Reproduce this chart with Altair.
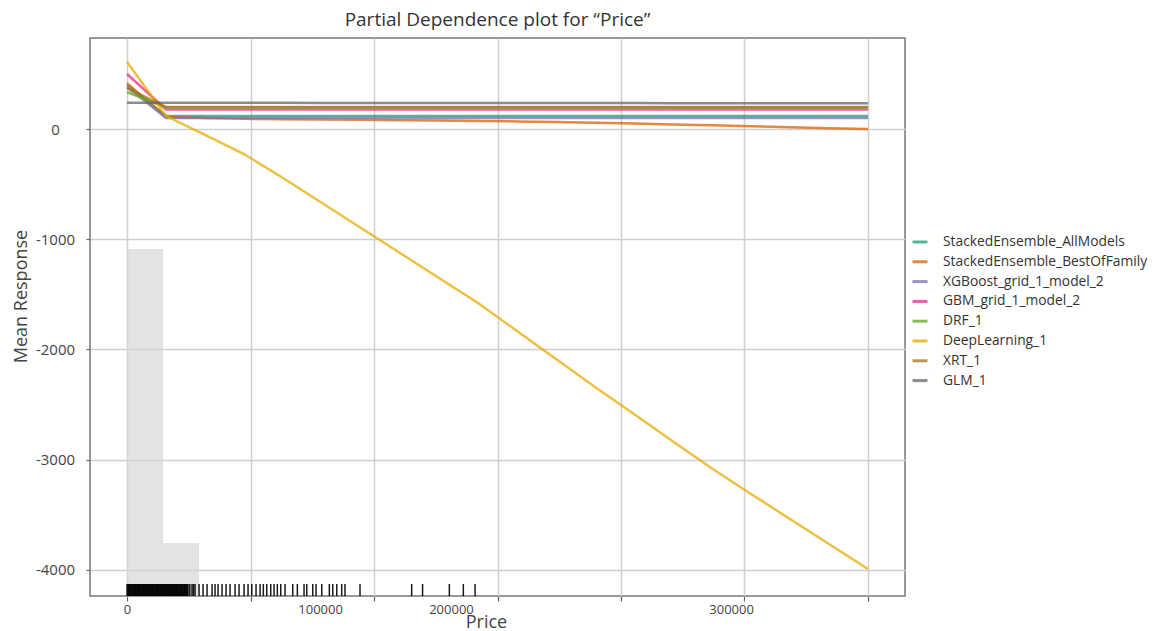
import altair as alt
import pandas as pd

FONT = "Open Sans"

models = [
    "StackedEnsemble_AllModels",
    "StackedEnsemble_BestOfFamily",
    "XGBoost_grid_1_model_2",
    "GBM_grid_1_model_2",
    "DRF_1",
    "DeepLearning_1",
    "XRT_1",
    "GLM_1",
]
colors = ["#1b9e77", "#d95f02", "#7570b3", "#e7298a", "#66a61e", "#e6ab02", "#a6761d", "#666666"]

price_grid = [0, 18947, 37895, 56842, 75789, 94737, 113684, 132632, 151579, 170526,
              189474, 208421, 227368, 246316, 265263, 284211, 303158, 322105, 341053, 360000]

se_all = [400, 118, 118, 118, 118, 118, 118, 118, 118, 118, 118, 118, 118, 118, 118, 118, 118, 118, 118, 118]
se_best = [417, 109, 100, 93, 89, 86, 83, 80, 77, 73, 69, 63, 57, 50, 42, 34, 25, 17, 8, 0]
xgb = [381, 100, 100, 100, 100, 100, 100, 100, 100, 100, 100, 100, 100, 100, 100, 100, 100, 100, 100, 100]
gbm = [499, 178, 178, 178, 178, 178, 178, 178, 178, 178, 178, 178, 178, 178, 178, 178, 178, 178, 178, 178]
drf = [336, 195, 195, 195, 195, 195, 195, 195, 195, 195, 195, 195, 195, 195, 195, 195, 195, 195, 195, 195]
deep = [608, 118, -54, -227, -445, -671, -898, -1125, -1352, -1579,
        -1833, -2087, -2341, -2586, -2836, -3081, -3312, -3539, -3766, -3993]
xrt = [370, 200, 200, 200, 200, 200, 200, 200, 200, 200, 200, 200, 200, 200, 200, 200, 200, 200, 200, 200]
glm = [239, 239, 238, 238, 238, 237, 237, 237, 236, 236, 236, 235, 235, 235, 234, 234, 234, 233, 233, 233]

series = [se_all, se_best, xgb, gbm, drf, deep, xrt, glm]

# histogram of Price (two visible bins)
hist_start = [0, 17500]
hist_end = [17500, 35000]
hist_count = [622, 95]

# rug of observed Price values
rug_values = [0, 400, 800, 1200, 1600, 2000, 2400, 2800, 3200, 3600, 4000, 4400, 4800,
              5200, 5600, 6000, 6400, 6800, 7200, 7600, 8000, 8400, 8800, 9200, 9600,
              10000, 10400, 10800, 11200, 11600, 12000, 12400, 12800, 13200, 13600, 14000,
              14400, 14800, 15200, 15600, 16000, 16400, 16800, 17200, 17600, 18000, 18400,
              18800, 19200, 19600, 20000, 20400, 20800, 21200, 21600, 22000, 22400, 22800,
              23200, 23600, 24000, 24400, 24800, 25200, 25600, 26000, 26400, 26800, 27200,
              27600, 28000, 28400, 28800, 29200, 29640, 30500, 31580, 32300, 33040, 34990,
              36930, 38870, 41300, 42760, 44220, 46160, 48110, 50050, 52480, 54420, 56850,
              58790, 60590, 62680, 64630, 66230, 67880, 69830, 71430, 73030, 74680, 76770,
              80510, 82750, 86000, 87320, 90230, 91840, 94600, 98300, 99950, 101900, 104300,
              105900, 113200, 138300, 143600, 156600, 163400, 169100]

# axis ticks / labels
x_grid_ticks = [0, 60000, 120000, 180000, 240000, 300000, 360000]
x_label_pos = [0, 93800, 157400, 293500]
x_label_text = ["0", "100000", "200000", "300000"]
y_ticks = [0, -1000, -2000, -3000, -4000]

rows = []
for m, vals in zip(models, series):
    for xv, yv in zip(price_grid, vals):
        rows.append({"model": m, "price": xv, "response": yv})
df_lines = pd.DataFrame(rows)
df_hist = pd.DataFrame({"start": hist_start, "end": hist_end, "count": hist_count})
df_rug = pd.DataFrame({"price": rug_values})

x_scale = alt.Scale(domain=[-18000, 378000], nice=False, zero=False)

label_expr = ""
for p, t in zip(x_label_pos, x_label_text):
    label_expr += f"datum.value == {p} ? '{t}' : "
label_expr += "''"
grid_list = ",".join(str(v) for v in x_grid_ticks)
grid_test = f"indexof([{grid_list}], datum.value) < 0"

x_axis = alt.Axis(
    values=sorted(set(x_grid_ticks + x_label_pos)),
    labelExpr=label_expr,
    gridOpacity={"condition": {"test": grid_test, "value": 0}, "value": 1},
    tickOpacity={"condition": {"test": grid_test, "value": 0}, "value": 1},
    grid=True, gridColor="#d0d0d0", gridWidth=1.5,
    tickSize=5, tickColor="#666666", tickWidth=1.2,
    domain=False,
    labelFont=FONT, labelFontSize=13, labelColor="#444444", labelPadding=2,
    labelOverlap=False, labelFlush=False,
    title="Price", titleFont=FONT, titleFontSize=18, titleFontWeight="normal",
    titleColor="#444444", titleX=396, titleY=26, titleAlign="center", titleBaseline="middle",
)

y_axis = alt.Axis(
    values=y_ticks,
    labelExpr="'' + datum.value",
    grid=True, gridColor="#d0d0d0", gridWidth=1.5,
    tickSize=4, tickColor="#666666", tickWidth=1.2,
    domain=False,
    labelFont=FONT, labelFontSize=15, labelColor="#444444",
    labelAlign="center", labelPadding=31, labelBaseline="middle",
    title="Mean Response", titleFont=FONT, titleFontSize=18, titleFontWeight="normal",
    titleColor="#444444", titleX=-69, titleY=258, titleAngle=270,
    titleAlign="center", titleBaseline="middle",
)

hist = alt.Chart(df_hist).mark_rect(color="#d4d4d4", opacity=0.65).encode(
    x=alt.X("start:Q", scale=x_scale, axis=x_axis),
    x2="end:Q",
    y=alt.Y("count:Q", scale=alt.Scale(domain=[0, 1000], nice=False), axis=None),
    y2=alt.datum(0),
)

rug = alt.Chart(df_rug).mark_rule(color="#000000", strokeWidth=1.5, opacity=0.9).encode(
    x=alt.X("price:Q", scale=x_scale),
    y=alt.value(546),
    y2=alt.value(558),
)

lines = alt.Chart(df_lines).mark_line(strokeWidth=2.5, opacity=0.75).encode(
    x=alt.X("price:Q", scale=x_scale, axis=x_axis),
    y=alt.Y("response:Q", scale=alt.Scale(domain=[-4238, 826], nice=False, zero=False), axis=y_axis),
    color=alt.Color(
        "model:N",
        sort=models,
        scale=alt.Scale(domain=models, range=colors),
        legend=alt.Legend(
            title=None, orient="none", legendX=821, legendY=195,
            symbolType="stroke", symbolSize=225, symbolStrokeWidth=3, symbolOpacity=0.75,
            labelFont=FONT, labelFontSize=13.8, labelColor="#333333", labelLimit=0,
            labelOffset=14, rowPadding=3.8,
        ),
    ),
    detail="model:N",
)

chart = alt.layer(hist, rug, lines).resolve_scale(y="independent").properties(
    width=815,
    height=558,
    autosize=alt.AutoSizeParams(type="none"),
    padding={"left": 82, "top": 30, "right": 245, "bottom": 35},
    title=alt.TitleParams(
        "Partial Dependence plot for “Price”", font=FONT, fontSize=19,
        fontWeight="normal", color="#333333", anchor="middle", offset=8,
    ),
    background="white",
).configure_view(stroke="#777777", strokeWidth=1.5)

chart.save("out.html", embed_options={"renderer": "svg", "actions": False})
